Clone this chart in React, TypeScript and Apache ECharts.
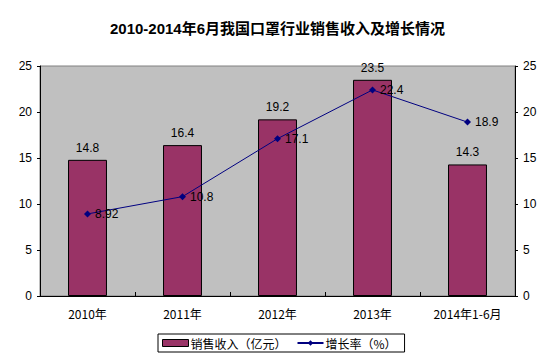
import React, { useEffect, useRef } from "react";
import * as echarts from "echarts";

const categories = ["2010年", "2011年", "2012年", "2013年", "2014年1-6月"];
const salesValues = [14.8, 16.4, 19.2, 23.5, 14.3];
const growthValues = [8.92, 10.8, 17.1, 22.4, 18.9];
const title = "2010-2014年6月我国口罩行业销售收入及增长情况";
const salesName = "销售收入（亿元）";
const growthName = "增长率（%）";

export default function App() {
  const ref = useRef<HTMLDivElement>(null);
  useEffect(() => {
    if (!ref.current) return;
    const chart = echarts.init(ref.current, undefined, { renderer: "svg" });
    const axisLabelFont = { fontFamily: "Arial, 'Liberation Sans', sans-serif", fontSize: 12, color: "#000" };
    chart.setOption({
      animation: false,
      backgroundColor: "#fff",
      title: {
        text: title,
        left: "center",
        top: 16,
        textStyle: {
          fontFamily: "Arial, 'Noto Sans CJK SC', sans-serif",
          fontWeight: "bold",
          fontSize: 15,
          color: "#000",
        },
      },
      graphic: [
        {
          type: "polyline",
          z: 100,
          silent: true,
          shape: {
            points: [
              [7.5, 6.5],
              [548.5, 6.5],
              [548.5, 354.5],
              [7.5, 354.5],
              [7.5, 6.5],
            ],
          },
          style: { stroke: "#000", lineWidth: 1, fill: null },
        },
      ],
      legend: {
        left: 158,
        top: 334,
        padding: [3, 8, 3, 4],
        itemGap: 10,
        borderColor: "#000",
        borderWidth: 1,
        itemWidth: 26,
        itemHeight: 7,
        textStyle: { fontFamily: "'Noto Sans CJK SC', sans-serif", fontSize: 12, color: "#000", padding: [0, 0, 0, -3] },
        data: [
          { name: salesName, icon: "rect", itemStyle: { borderColor: "#000", borderWidth: 1 } },
          { name: growthName },
        ],
      },
      grid: {
        left: 40,
        right: 40,
        top: 66,
        bottom: 66,
        show: true,
        backgroundColor: "#C0C0C0",
        borderColor: "#808080",
        borderWidth: 1,
      },
      xAxis: {
        type: "category",
        data: categories,
        axisLine: { lineStyle: { color: "#000", width: 1 } },
        axisTick: { show: true, inside: true, length: 4, lineStyle: { color: "#000" } },
        axisLabel: {
          fontFamily: "'Noto Sans CJK SC', 'DejaVu Sans Mono', monospace",
          fontSize: 12,
          color: "#000",
          margin: 11,
        },
      },
      yAxis: [
        {
          type: "value",
          min: 0,
          max: 25,
          interval: 5,
          position: "left",
          splitLine: { show: false },
          axisLine: { show: true, lineStyle: { color: "#000" } },
          axisTick: { show: true, length: 3, lineStyle: { color: "#000" } },
          axisLabel: { ...axisLabelFont, margin: 8 },
        },
        {
          type: "value",
          min: 0,
          max: 25,
          interval: 5,
          position: "right",
          splitLine: { show: false },
          axisLine: { show: true, lineStyle: { color: "#000" } },
          axisTick: { show: true, length: 3, lineStyle: { color: "#000" } },
          axisLabel: { ...axisLabelFont, margin: 8 },
        },
      ],
      series: [
        {
          name: salesName,
          type: "bar",
          data: salesValues,
          barWidth: "41%",
          itemStyle: { color: "#993366", borderColor: "#000", borderWidth: 1 },
          label: {
            show: true,
            position: "top",
            distance: 6,
            ...axisLabelFont,
          },
        },
        {
          name: growthName,
          type: "line",
          yAxisIndex: 1,
          data: growthValues,
          symbol: "diamond",
          symbolSize: 7,
          lineStyle: { color: "#000080", width: 1 },
          itemStyle: { color: "#000080" },
          label: {
            show: true,
            position: "right",
            distance: 4,
            ...axisLabelFont,
          },
        },
      ],
    });
    return () => chart.dispose();
  }, []);
  return <div ref={ref} style={{ width: 555, height: 362, margin: -8 }} />;
}
